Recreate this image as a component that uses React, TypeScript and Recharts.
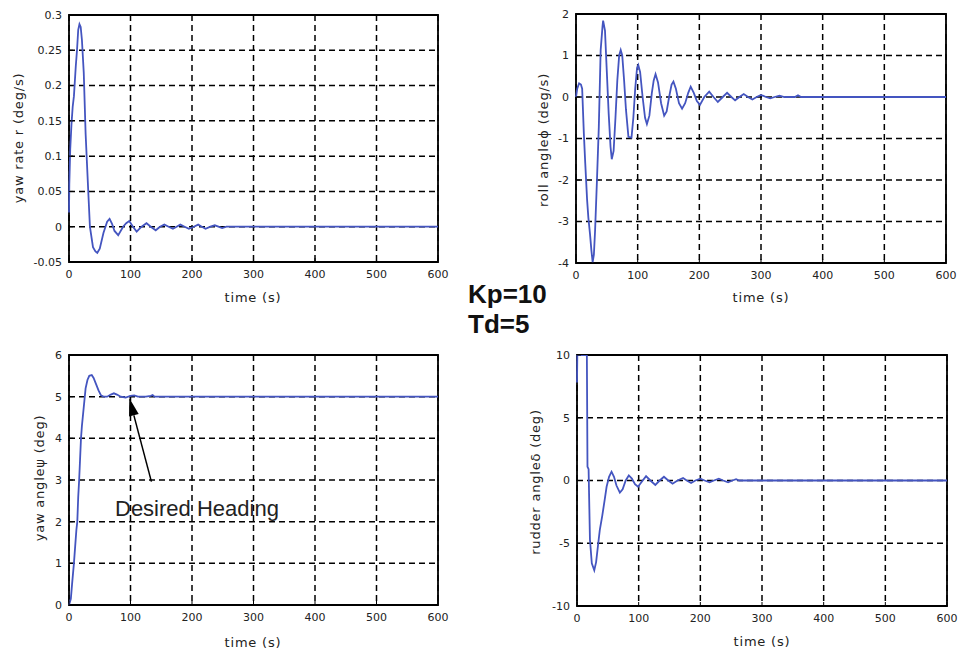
import { LineChart, Line, XAxis, YAxis, CartesianGrid, ReferenceArea, ReferenceLine } from 'recharts';

const timeTicks = [0, 100, 200, 300, 400, 500, 600];

// yaw rate r (deg/s)
const yawRateT = [0, 0.5, 2, 4, 6, 8, 11, 13, 15, 17,
  19, 21, 24, 27, 31, 34, 39, 43, 46, 50,
  56, 62, 66, 70, 74, 80, 88, 93, 98, 104,
  110, 118, 126, 133, 141, 148, 155, 162, 169, 175,
  181, 188, 195, 203, 210, 216, 222, 230, 237, 243,
  249, 256, 600];
const yawRateV = [0.02, 0.06, 0.11, 0.145, 0.17, 0.185, 0.227, 0.25, 0.279, 0.287,
  0.283, 0.265, 0.218, 0.132, 0.056, 0, -0.029, -0.035, -0.037, -0.031,
  -0.009, 0.007, 0.011, 0.004, -0.006, -0.012, 0, 0.005, 0.008, 0,
  -0.007, 0, 0.005, 0, -0.005, 0, 0.003, 0, -0.003, 0,
  0.003, 0, -0.003, 0, 0.003, 0, -0.003, 0, 0.002, 0,
  -0.002, 0, 0];
const yawRateTicks = [-0.05, 0, 0.05, 0.1, 0.15, 0.2, 0.25, 0.3];

// roll angle phi (deg/s)
const rollT = [0, 2, 5, 8, 10, 12.7, 15, 18, 20, 22.7,
  25, 27, 29, 31, 34, 37, 40, 43, 44, 47,
  50, 53, 56, 58, 61, 64, 67, 70, 72.5, 75,
  78, 81, 85, 90, 93, 96, 99, 101, 104, 108,
  112, 115, 119, 123, 126, 129, 133, 138, 143, 147,
  151, 155, 158, 162, 167, 172, 177, 182, 186, 191,
  196, 201, 208, 216, 223, 230, 238, 245, 252, 258,
  265, 272, 279, 286, 293, 300, 308, 315, 322, 330,
  338, 355, 360, 365, 600];
const rollV = [0, 0.2, 0.33, 0.3, 0.2, -0.87, -1.6, -2.48, -2.9, -3.3,
  -3.7, -3.98, -3.8, -3.2, -2.0, -0.72, 1.13, 1.7, 1.84, 1.6,
  0.6, -0.4, -1.2, -1.5, -1.3, -0.5, 0.4, 1.0, 1.13, 1.0,
  0.4, -0.3, -0.96, -0.98, -0.5, 0.2, 0.7, 0.77, 0.6, 0,
  -0.5, -0.65, -0.45, 0.1, 0.4, 0.55, 0.35, -0.15, -0.45, -0.35,
  0, 0.3, 0.37, 0.2, -0.15, -0.28, -0.15, 0.1, 0.25, 0.1,
  -0.1, -0.19, 0, 0.13, 0, -0.12, 0, 0.1, 0, -0.08,
  0, 0.07, 0, -0.06, 0, 0.05, 0, -0.03, 0, 0.03,
  0, 0, 0.04, 0, 0];
const rollTicks = [-4, -3, -2, -1, 0, 1, 2];

// yaw angle psi (deg)
const yawT = [0, 3, 5, 8, 10, 12, 13.5, 15, 16.5, 18,
  19.5, 21, 23, 25, 27, 30, 33, 37, 40, 44,
  48, 52, 56, 62, 68, 73, 78, 84, 92, 100,
  106, 112, 125, 133, 136, 139, 600];
const yawV = [0, 0.15, 0.5, 1.0, 1.4, 1.8, 2.0, 2.6, 3.0, 3.5,
  4.0, 4.3, 4.6, 4.9, 5.2, 5.4, 5.5, 5.52, 5.45, 5.3,
  5.15, 5.03, 5.0, 5.0, 5.05, 5.08, 5.05, 5.0, 4.98, 5.02,
  5.03, 5.0, 5.0, 5.02, 5.04, 5.0, 5.0];
const yawTicks = [0, 1, 2, 3, 4, 5, 6];

// rudder angle delta (deg)
const rudderT = [0, 0.5, 16, 17, 18.8, 21, 24, 28, 31, 34,
  37, 41, 45, 48, 52, 56, 60, 64, 69.5, 74,
  79, 84, 89, 94, 99, 105, 112, 119, 127, 134,
  141, 148, 155, 163, 172, 178, 185, 192, 200, 207,
  215, 222, 230, 237, 245, 252, 258, 263, 600];
const rudderV = [7.8, 10, 10, 1.1, 0.9, -4.7, -6.6, -7.15, -6.5, -5.2,
  -3.94, -2.8, -1.5, -0.5, 0.3, 0.7, 0.3, -0.4, -0.97, -0.7,
  0, 0.4, 0.15, -0.3, -0.5, -0.1, 0.35, 0, -0.35, 0,
  0.3, 0, -0.25, 0, 0.2, 0, -0.2, 0, 0.15, 0,
  -0.15, 0, 0.15, 0, -0.15, 0, 0.1, 0, 0];
const rudderTicks = [-10, -5, 0, 5, 10];

// annotation arrow (tail -> tip) in data units
const arrowTail = { x: 134, y: 2.96 };
const arrowTip = { x: 98, y: 4.97 };

const toSeries = (t: number[], v: number[]) => t.map((x, i) => ({ t: x, v: v[i] }));

const LINE_COLOR = '#4455c0';
const TEXT_COLOR = '#222';
const tickStyle = { fontSize: 11, fill: TEXT_COLOR, fontFamily: 'DejaVu Sans' };

const ArrowShape = (props: any) => {
  const { x1, y1, x2, y2 } = props;
  const ang = Math.atan2(y2 - y1, x2 - x1);
  const len = 18;
  const half = 5;
  const bx = x2 - len * Math.cos(ang);
  const by = y2 - len * Math.sin(ang);
  const px = -Math.sin(ang) * half;
  const py = Math.cos(ang) * half;
  return (
    <g>
      <line x1={x1} y1={y1} x2={bx} y2={by} stroke="#000" strokeWidth={1.5} />
      <polygon points={`${x2},${y2} ${bx + px},${by + py} ${bx - px},${by - py}`} fill="#000" />
    </g>
  );
};

interface PanelProps {
  left: number;
  top: number;
  width: number;
  height: number;
  marginTop: number;
  marginRight: number;
  yWidth: number;
  xHeight: number;
  data: { t: number; v: number }[];
  yTicks: number[];
  arrow?: boolean;
}

const Panel = ({ left, top, width, height, marginTop, marginRight, yWidth, xHeight, data, yTicks, arrow }: PanelProps) => {
  const yMin = yTicks[0];
  const yMax = yTicks[yTicks.length - 1];
  return (
    <div style={{ position: 'absolute', left, top }}>
      <LineChart width={width} height={height} data={data} margin={{ top: marginTop, right: marginRight, bottom: 0, left: 0 }}>
        <CartesianGrid stroke="#000" strokeDasharray="6 4" strokeWidth={1.5} />
        <XAxis
          dataKey="t"
          type="number"
          domain={[0, 600]}
          ticks={timeTicks}
          interval={0}
          height={xHeight}
          axisLine={false}
          tickSize={-4}
          tickMargin={12}
          tickLine={{ stroke: '#000' }}
          tick={tickStyle}
        />
        <YAxis
          type="number"
          domain={[yMin, yMax]}
          ticks={yTicks}
          interval={0}
          width={yWidth}
          allowDataOverflow
          axisLine={false}
          tickSize={-4}
          tickMargin={11}
          tickLine={{ stroke: '#000' }}
          tick={tickStyle}
        />
        <ReferenceArea x1={0} x2={600} y1={yMin} y2={yMax} fill="none" fillOpacity={0} stroke="#000" strokeWidth={1.8} />
        <Line
          dataKey="v"
          type="linear"
          stroke={LINE_COLOR}
          strokeWidth={1.8}
          dot={false}
          isAnimationActive={false}
        />
        {arrow && (
          <ReferenceLine segment={[arrowTail, arrowTip]} shape={ArrowShape} />
        )}
      </LineChart>
    </div>
  );
};

export default function App() {
  const labelFont = { fontFamily: 'DejaVu Sans', fontSize: 13, fill: TEXT_COLOR, letterSpacing: 0.8 };
  return (
    <div style={{ position: 'absolute', left: 0, top: 0, width: 967, height: 651, background: '#fff' }}>
      <Panel left={0} top={0} width={450} height={310} marginTop={15} marginRight={12} yWidth={69} xHeight={48}
        data={toSeries(yawRateT, yawRateV)} yTicks={yawRateTicks} />
      <Panel left={500} top={0} width={467} height={310} marginTop={14} marginRight={21} yWidth={76} xHeight={47}
        data={toSeries(rollT, rollV)} yTicks={rollTicks} />
      <Panel left={0} top={330} width={450} height={321} marginTop={25} marginRight={12} yWidth={69} xHeight={46}
        data={toSeries(yawT, yawV)} yTicks={yawTicks} arrow />
      <Panel left={500} top={330} width={467} height={321} marginTop={25} marginRight={20} yWidth={77} xHeight={45}
        data={toSeries(rudderT, rudderV)} yTicks={rudderTicks} />

      <svg width={967} height={651} style={{ position: 'absolute', left: 0, top: 0, pointerEvents: 'none' }}>
        <g {...labelFont} textAnchor="middle" dominantBaseline="central">
          <text x={253} y={297}>time (s)</text>
          <text x={761} y={297}>time (s)</text>
          <text x={253} y={642}>time (s)</text>
          <text x={762} y={641}>time (s)</text>
          <text x={18} y={138} transform="rotate(-90 18 138)">yaw rate r (deg/s)</text>
          <text x={543} y={140} transform="rotate(-90 543 140)">roll angleϕ (deg/s)</text>
          <text x={39} y={478} transform="rotate(-90 39 478)">yaw angleψ (deg)</text>
          <text x={535} y={482} transform="rotate(-90 535 482)">rudder angleδ (deg)</text>
        </g>
        <g fontFamily="Liberation Sans" fontWeight="bold" fontSize={26} fill="#111">
          <text x={468} y={303}>Kp=10</text>
          <text x={468} y={333}>Td=5</text>
        </g>
        <text x={115} y={516} fontFamily="Liberation Sans" fontSize={22} fill="#222">Desired Heading</text>
      </svg>
    </div>
  );
}
